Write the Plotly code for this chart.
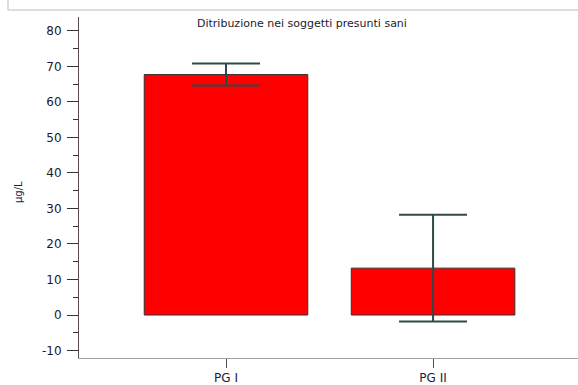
import plotly.graph_objects as go

# Serum pepsinogen levels in presumed healthy subjects
categories = ["PG I", "PG II"]
means = [67.7, 13.2]
errors = [3.1, 15.0]
y_ticks = [-10, 0, 10, 20, 30, 40, 50, 60, 70, 80]
y_tick_labels = ["-10", "0", "10", "20", "30", "40", "50", "60", "70", "80"]
title_text = "Ditribuzione nei soggetti presunti sani"
y_label = "\u00b5g/L"

W, H = 578, 385
L, R, T, B = 79, 0, 17, 27
plot_w = W - L - R
plot_h = H - T - B

fig = go.Figure()
fig.add_trace(go.Bar(
    x=[0, 1],
    y=means,
    width=0.79,
    marker=dict(color="#ff0000", line=dict(color="#333333", width=1)),
    error_y=dict(type="data", array=errors, visible=True,
                 color="#2f4a4a", thickness=2, width=34),
    showlegend=False,
))

fam = "Verdana, DejaVu Sans, sans-serif"
font = dict(family=fam, size=12, color="#1a1a2e")

fig.update_layout(
    width=W, height=H,
    margin=dict(l=L, r=R, t=T, b=B),
    paper_bgcolor="white", plot_bgcolor="white",
    font=font,
    xaxis=dict(
        range=[-0.71, 1.70],
        tickmode="array", tickvals=[0, 1], ticktext=categories,
        tickfont=dict(family=fam, size=12, color="#1a1a3e"),
        showline=True, linecolor="#a0a0a0", linewidth=1,
        ticks="outside", ticklen=9, tickcolor="#5a4a4a", tickwidth=1,
        showgrid=False, zeroline=False,
    ),
    yaxis=dict(
        range=[-12.1, 83.9],
        tickmode="array", tickvals=y_ticks, ticktext=y_tick_labels,
        tickfont=dict(family=fam, size=12, color="#1a1a2e"),
        ticklabelstandoff=3,
        showline=True, linecolor="#5a4a4a", linewidth=1,
        ticks="outside", ticklen=11, tickcolor="#3a3030", tickwidth=1,
        minor=dict(dtick=5, tick0=0, ticks="outside", ticklen=5, tickcolor="#3a3030"),
        showgrid=False, zeroline=False,
    ),
    annotations=[
        dict(text=title_text, xref="paper", yref="paper",
             x=(302 - L) / plot_w, y=(H - B - 24) / plot_h,
             xanchor="center", yanchor="middle", showarrow=False,
             font=dict(family=fam, size=11, color="#1a1a2e")),
        dict(text=y_label, xref="paper", yref="paper",
             x=(18 - L) / plot_w, y=(H - B - 192) / plot_h,
             xanchor="center", yanchor="middle", showarrow=False, textangle=-90,
             font=dict(family=fam, size=10, color="#1a1a4e")),
    ],
    shapes=[
        dict(type="line", xref="paper", yref="paper",
             x0=(8 - L) / plot_w, x1=(W - L) / plot_w,
             y0=(H - B - 10) / plot_h, y1=(H - B - 10) / plot_h,
             line=dict(color="#bbbbbb", width=1)),
        dict(type="line", xref="paper", yref="paper",
             x0=(8 - L) / plot_w, x1=(8 - L) / plot_w,
             y0=(H - B - 10) / plot_h, y1=(H - B) / plot_h,
             line=dict(color="#bbbbbb", width=1)),
    ],
)

fig.write_html("out.html")
